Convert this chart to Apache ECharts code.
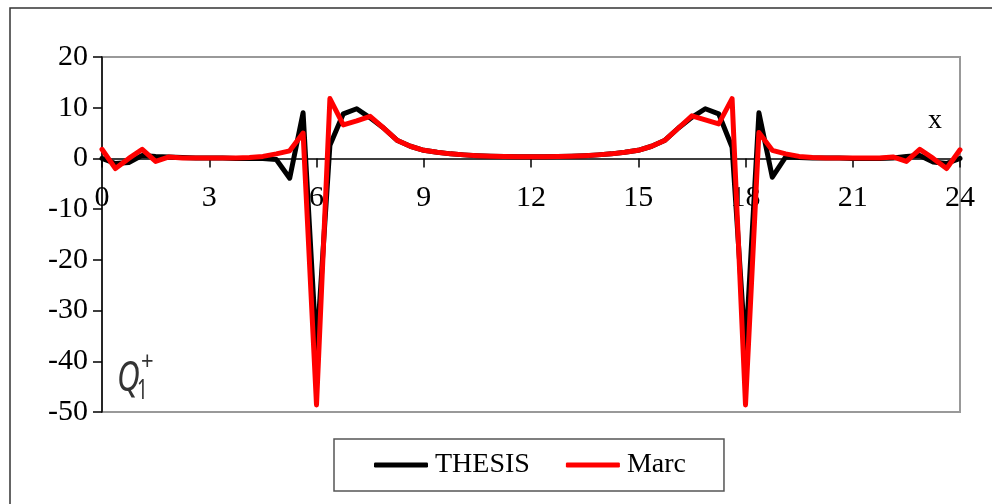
<!DOCTYPE html>
<html>
<head>
<meta charset="utf-8">
<script src="https://cdn.jsdelivr.net/npm/echarts@6/dist/echarts.min.js"></script>
<style>
html,body{margin:0;padding:0;background:#fff;}
#chart{width:992px;height:504px;}
</style>
</head>
<body>
<div id="chart"></div>
<script>
var xs = [0,0.375,0.75,1.125,1.5,1.875,2.25,2.625,3,3.375,3.75,4.125,4.5,4.875,5.25,5.625,6,6.375,6.75,7.125,7.5,7.875,8.25,8.625,9,9.375,9.75,10.125,10.5,10.875,11.25,11.625,12,12.375,12.75,13.125,13.5,13.875,14.25,14.625,15,15.375,15.75,16.125,16.5,16.875,17.25,17.625,18,18.375,18.75,19.125,19.5,19.875,20.25,20.625,21,21.375,21.75,22.125,22.5,22.875,23.25,23.625,24];

var thesis = [0.0,-1.0,-0.8,0.6,0.4,0.3,0.2,0.1,0.1,0.1,0.0,0.0,0.0,-0.2,-3.9,9.0,-38,
  2.6,8.8,9.8,8.0,6.0,3.6,2.4,1.6,1.2,0.9,0.7,0.55,0.45,0.4,0.35,0.35,
  0.35,0.4,0.45,0.55,0.7,0.9,1.2,1.6,2.4,3.6,6.0,8.1,9.8,8.8,2.2,
  -38,
  9.0,-3.7,0.3,0.2,0.1,0.1,0.1,0.0,0.0,0.0,0.1,0.4,0.6,-0.7,-1.0,0.0];

var marc = [1.8,-2.0,0.0,1.8,-0.6,0.3,0.1,0.1,0.1,0.1,0.1,0.2,0.4,0.9,1.5,5.0,-48.6,
  11.8,6.6,7.4,8.3,6.0,3.6,2.4,1.6,1.2,0.9,0.7,0.55,0.45,0.4,0.35,0.35,
  0.35,0.4,0.45,0.55,0.7,0.9,1.2,1.6,2.4,3.6,6.0,8.4,7.6,6.8,11.8,
  -48.6,
  5.1,1.6,0.9,0.4,0.2,0.1,0.1,0.1,0.1,0.1,0.3,-0.6,1.8,0.0,-2.0,1.7];

var seriesNames = ['THESIS','Marc'];
var xTicks = {min:0, max:24, interval:3};
var yTicks = {min:-50, max:20, interval:10};

function pairs(ys){ return xs.map(function(x,i){ return [x, ys[i]]; }); }

var serif = '"Liberation Serif","DejaVu Serif",serif';
var sans = '"Noto Sans","DejaVu Sans",sans-serif';
var gridTop = 57, gridBottom = 92, chartH = 504;
var plotH = chartH - gridTop - gridBottom;
var zeroOffset = -plotH * (0 - yTicks.min) / (yTicks.max - yTicks.min);

var chart = echarts.init(document.getElementById('chart'), null, {renderer:'canvas'});
chart.setOption({
  animation:false,
  backgroundColor:'#fff',
  grid:{left:102, right:32, top:gridTop, bottom:gridBottom, show:true, borderColor:'#999', borderWidth:2, backgroundColor:'transparent'},
  xAxis:[
    {type:'value', min:xTicks.min, max:xTicks.max, interval:xTicks.interval, position:'bottom',
      offset:zeroOffset,
      axisLine:{onZero:false, lineStyle:{color:'#000', width:1.5}},
      axisTick:{show:true, length:9, lineStyle:{color:'#000', width:1.5}},
      axisLabel:{margin:25, color:'#000', fontSize:30, fontFamily:serif},
      splitLine:{show:false}}
  ],
  yAxis:{type:'value', min:yTicks.min, max:yTicks.max, interval:yTicks.interval,
    axisLine:{show:true, onZero:false, lineStyle:{color:'#000', width:1.5}},
    axisTick:{show:true, length:9, lineStyle:{color:'#000', width:1.5}},
    axisLabel:{margin:14, color:'#000', fontSize:30, fontFamily:serif},
    splitLine:{show:false}},
  legend:{left:334, top:439, orient:'horizontal',
    padding:[12,38,12,40], itemGap:36, itemWidth:54, itemHeight:5, icon:'roundRect',
    borderColor:'#555', borderWidth:1.5,
    textStyle:{color:'#000', fontSize:28, fontFamily:serif, padding:[0,0,0,2]},
    data:seriesNames},
  series:[
    {name:seriesNames[0], type:'line', data:pairs(thesis), symbol:'none', showSymbol:false,
      lineStyle:{color:'#000', width:5, cap:'round', join:'round'}, itemStyle:{color:'#000'}, z:2},
    {name:seriesNames[1], type:'line', data:pairs(marc), symbol:'none', showSymbol:false,
      lineStyle:{color:'#ff0000', width:5, cap:'round', join:'round'}, itemStyle:{color:'#ff0000'}, z:3}
  ],
  graphic:[
    {type:'rect', shape:{x:10, y:8, width:1000, height:520}, style:{fill:'none', stroke:'#333', lineWidth:1.5}, silent:true},
    {type:'text', x:935, y:121, style:{text:'x', fontSize:28, fontFamily:serif, fill:'#000', textAlign:'center', textVerticalAlign:'middle'}},
    {type:'text', x:117, y:358, scaleX:0.75, style:{text:'Q', fontSize:42, fontStyle:'italic', fontFamily:sans, fill:'#333'}},
    {type:'text', x:137, y:378, scaleX:0.7, style:{text:'1', fontSize:27, fontFamily:sans, fill:'#333'}},
    {type:'text', x:141, y:350, scaleX:0.85, style:{text:'+', fontSize:26, fontFamily:sans, fill:'#333'}}
  ]
});
</script>
</body>
</html>
